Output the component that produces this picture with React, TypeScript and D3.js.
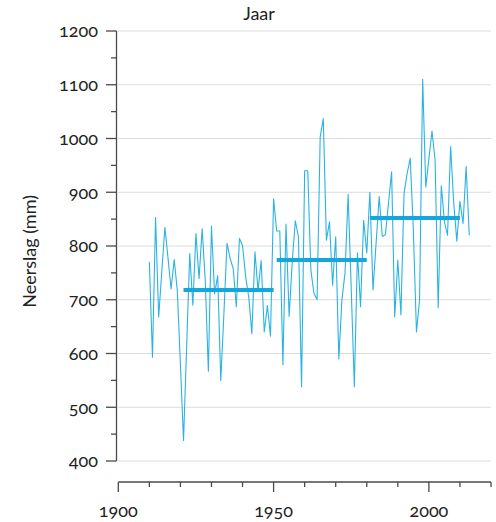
import React from "react";
import * as d3 from "d3";

const years: number[] = d3.range(1910, 2014);
const neerslag: number[] = [
  770, 593, 853, 668, 752, 835, 778, 720, 775, 717,
  580, 438, 612, 786, 690, 823, 739, 832, 736, 567,
  837, 711, 745, 550, 674, 805, 777, 758, 687, 814,
  801, 743, 705, 637, 789, 717, 773, 640, 689, 632,
  888, 828, 828, 579, 841, 669, 770, 847, 817, 538,
  940, 940, 755, 712, 700, 1003, 1037, 811, 845, 727,
  817, 590, 700, 750, 896, 720, 538, 787, 687, 848,
  787, 900, 718, 805, 892, 818, 821, 880, 938, 668,
  774, 672, 898, 935, 963, 830, 640, 700, 1110, 910,
  962, 1014, 960, 685, 912, 845, 820, 985, 880, 809,
  883, 842, 948, 820,
];
const periodStart: number[] = [1921, 1951, 1981];
const periodEnd: number[] = [1950, 1980, 2010];
const periodMean: number[] = [718, 774, 852];
const yTicks: number[] = [400, 500, 600, 700, 800, 900, 1000, 1100, 1200];
const yMinor: number[] = [450, 550, 650, 750, 850, 950, 1050, 1150];
const xMajor: number[] = [1900, 1950, 2000];
const xMinor: number[] = [1910, 1920, 1930, 1940, 1960, 1970, 1980, 1990, 2010, 2020];

const FONT = "Lato, 'Open Sans', sans-serif";
const LINE = "#2ab3e4";
const MEAN = "#16a6de";
const AXIS = "#4a4a4a";
const NUM: React.CSSProperties = { fontVariantNumeric: "oldstyle-nums", fontFeatureSettings: '"onum" 1' };

export default function App() {
  const x = d3.scaleLinear().domain([1900, 2020]).range([118.3, 491]);
  const y = d3.scaleLinear().domain([400, 1200]).range([461, 31]);
  const line = d3
    .line<number>()
    .x((_, i) => x(years[i]))
    .y((d) => y(d));
  const axisY = 482;
  const yAxisX = 116.5;
  return (
    <svg
      width={496}
      height={522}
      style={{ position: "absolute", left: 0, top: 0, fontFamily: FONT }}
    >
      <rect width={496} height={522} fill="#fff" />
      <text x={259} y={20} textAnchor="middle" fontSize={18} fill="#222">
        Jaar
      </text>
      {yTicks.map((t) => (
        <line key={"g" + t} x1={118} x2={491} y1={y(t)} y2={y(t)} stroke="#dcdcdc" strokeWidth={1} />
      ))}
      <line x1={yAxisX} x2={yAxisX} y1={y(1200)} y2={y(400)} stroke={AXIS} strokeWidth={1.3} />
      {yTicks.map((t) => (
        <g key={"yt" + t}>
          <line x1={106} x2={yAxisX} y1={y(t)} y2={y(t)} stroke={AXIS} strokeWidth={1.3} />
          <text
            x={98}
            y={y(t)}
            dy="0.35em"
            textAnchor="end"
            fontSize={18}
            fill="#222"
            style={NUM}
          >
            {t}
          </text>
        </g>
      ))}
      {yMinor.map((t) => (
        <line key={"ym" + t} x1={111} x2={yAxisX} y1={y(t)} y2={y(t)} stroke={AXIS} strokeWidth={1.3} />
      ))}
      <text
        transform={`translate(36,${y(790)}) rotate(-90)`}
        textAnchor="middle"
        fontSize={18}
        fill="#222"
      >
        Neerslag (mm)
      </text>
      <path d={line(neerslag) || ""} fill="none" stroke={LINE} strokeWidth={1.1} strokeLinejoin="round" />
      {periodMean.map((m, i) => (
        <line
          key={"m" + i}
          x1={x(periodStart[i])}
          x2={x(periodEnd[i])}
          y1={y(m)}
          y2={y(m)}
          stroke={MEAN}
          strokeWidth={4}
        />
      ))}
      <line x1={x(1900)} x2={x(2020)} y1={axisY} y2={axisY} stroke={AXIS} strokeWidth={1.3} />
      {xMajor.map((t) => (
        <g key={"xt" + t}>
          <line x1={x(t)} x2={x(t)} y1={axisY} y2={axisY + 10} stroke={AXIS} strokeWidth={1.3} />
          <text
            x={x(t)}
            y={517}
            textAnchor="middle"
            fontSize={18}
            fill="#222"
            style={NUM}
          >
            {t}
          </text>
        </g>
      ))}
      {xMinor.map((t) => (
        <line key={"xm" + t} x1={x(t)} x2={x(t)} y1={axisY} y2={axisY + 5} stroke={AXIS} strokeWidth={1.3} />
      ))}
    </svg>
  );
}
